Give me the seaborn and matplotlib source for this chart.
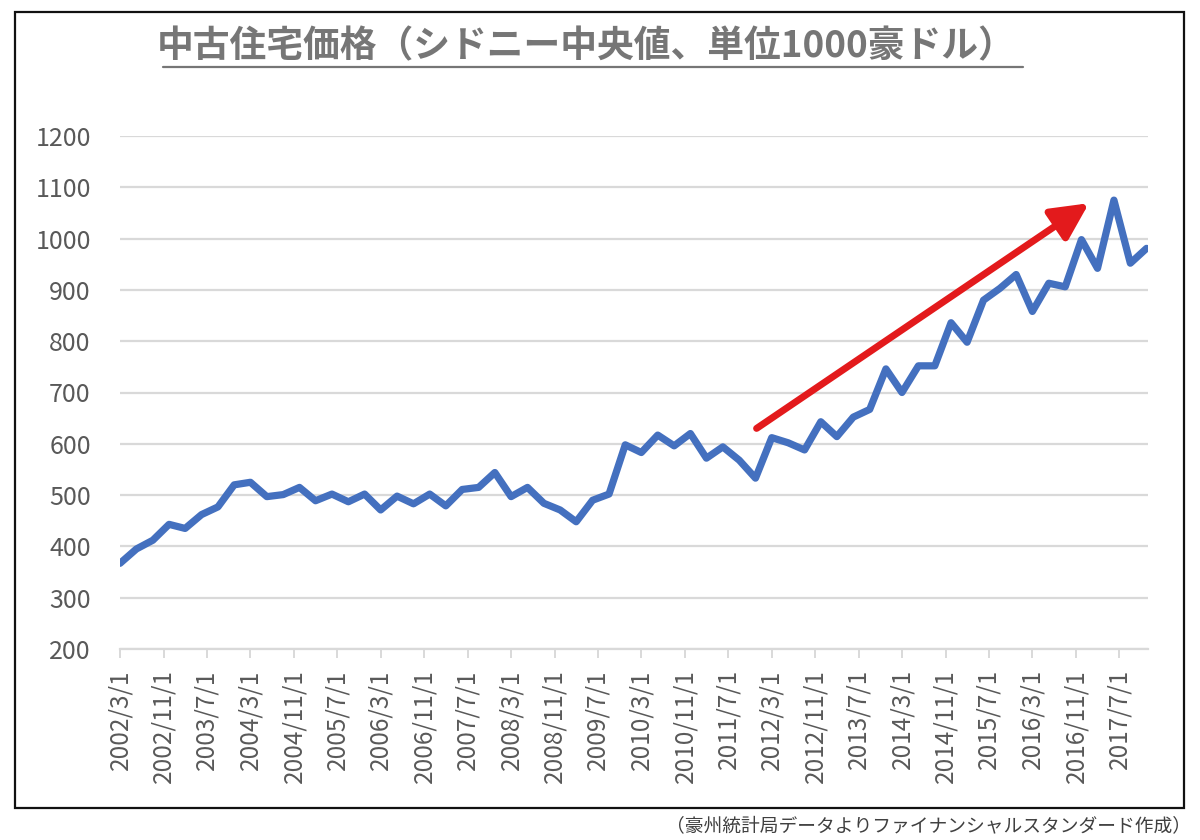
import matplotlib
matplotlib.use("Agg")
import matplotlib.pyplot as plt
from matplotlib.lines import Line2D
from matplotlib.patches import Rectangle
import seaborn as sns
import pandas as pd

# quarterly dates, 2002/3/1 .. 2017/12/1
dates = pd.date_range("2002-03-01", periods=64, freq="3MS")

# median price, thousand AUD
prices = [
    367, 395, 412, 443, 435, 462, 477, 520, 525, 497, 501, 515, 489, 502, 487, 502,
    471, 498, 483, 502, 479, 511, 515, 544, 497, 515, 484, 471, 448, 490, 502, 598,
    583, 617, 596, 620, 572, 594, 568, 533, 612, 602, 588, 643, 614, 652, 667, 746,
    700, 752, 752, 836, 798, 880, 903, 930, 858, 913, 906, 998, 942, 1075, 952, 981,
]

tick_dates = pd.date_range("2002-03-01", "2017-12-01", freq="8MS")
tick_labels = [f"{d.year}/{d.month}/{d.day}" for d in tick_dates]
y_ticks = list(range(200, 1300, 100))

# trend arrow (tail, head)
arrow_from = (pd.Timestamp("2011-12-07"), 630)
arrow_to = (pd.Timestamp("2017-01-12"), 1069)

title = "中古住宅価格（シドニー中央値、単位1000豪ドル）"
source = "（豪州統計局データよりファイナンシャルスタンダード作成）"

sns.set_theme(style="white")
plt.rcParams["font.family"] = ["Noto Sans CJK JP", "DejaVu Sans"]

grey = "#595959"
grid_c = "#D9D9D9"

fig = plt.figure(figsize=(12, 8.4), dpi=100)
ax = fig.add_axes([120 / 1200, 1 - 649 / 840, (1148 - 120) / 1200, (649 - 136) / 840])

df = pd.DataFrame({"date": dates, "price": prices})
sns.lineplot(data=df, x="date", y="price", ax=ax, color="#4470BF", linewidth=5.2)
for ln in ax.lines:
    ln.set_solid_joinstyle("round")
    ln.set_solid_capstyle("round")

ax.annotate("", xy=arrow_to, xytext=arrow_from,
            arrowprops=dict(arrowstyle="-|>,head_length=0.8,head_width=0.4",
                            lw=5, color="#E31A1C", mutation_scale=28,
                            shrinkA=0, shrinkB=0))

ax.set_xlim(dates[0], dates[-1] + pd.Timedelta(days=8))
ax.set_ylim(200, 1200)
ax.set_yticks(y_ticks)
ax.set_xticks(tick_dates)
ax.set_xticklabels(tick_labels, rotation=90)
ax.set_xlabel("")
ax.set_ylabel("")

ax.yaxis.grid(True, color=grid_c, linewidth=1.6)
ax.set_axisbelow(True)
for s in ["top", "right", "left"]:
    ax.spines[s].set_visible(False)
ax.spines["bottom"].set_color(grid_c)
ax.spines["bottom"].set_linewidth(1.6)
ax.tick_params(axis="x", which="major", bottom=True, length=6.5, width=1.4,
               color=grid_c, labelcolor=grey, labelsize=17.5, pad=8)
ax.tick_params(axis="y", left=False, labelcolor=grey, labelsize=18, pad=15)

# title with underline
fig.text(586 / 1200, 1 - 47 / 840, title, ha="center", va="center",
         fontsize=26.5, fontweight="bold", color="#767676")
fig.add_artist(Line2D([163 / 1200, 1023 / 1200], [1 - 67 / 840, 1 - 67 / 840],
                      color="#767676", linewidth=1.6, transform=fig.transFigure))

# outer frame
fig.add_artist(Rectangle((15 / 1200, 1 - 808 / 840), (1184 - 15) / 1200, (808 - 12) / 840,
                         fill=False, edgecolor="#111111", linewidth=1.6,
                         transform=fig.transFigure))

fig.text(1191 / 1200, 1 - 826 / 840, source, ha="right", va="center",
         fontsize=13.5, color="#404040")

fig.savefig("out.png", dpi=100)
